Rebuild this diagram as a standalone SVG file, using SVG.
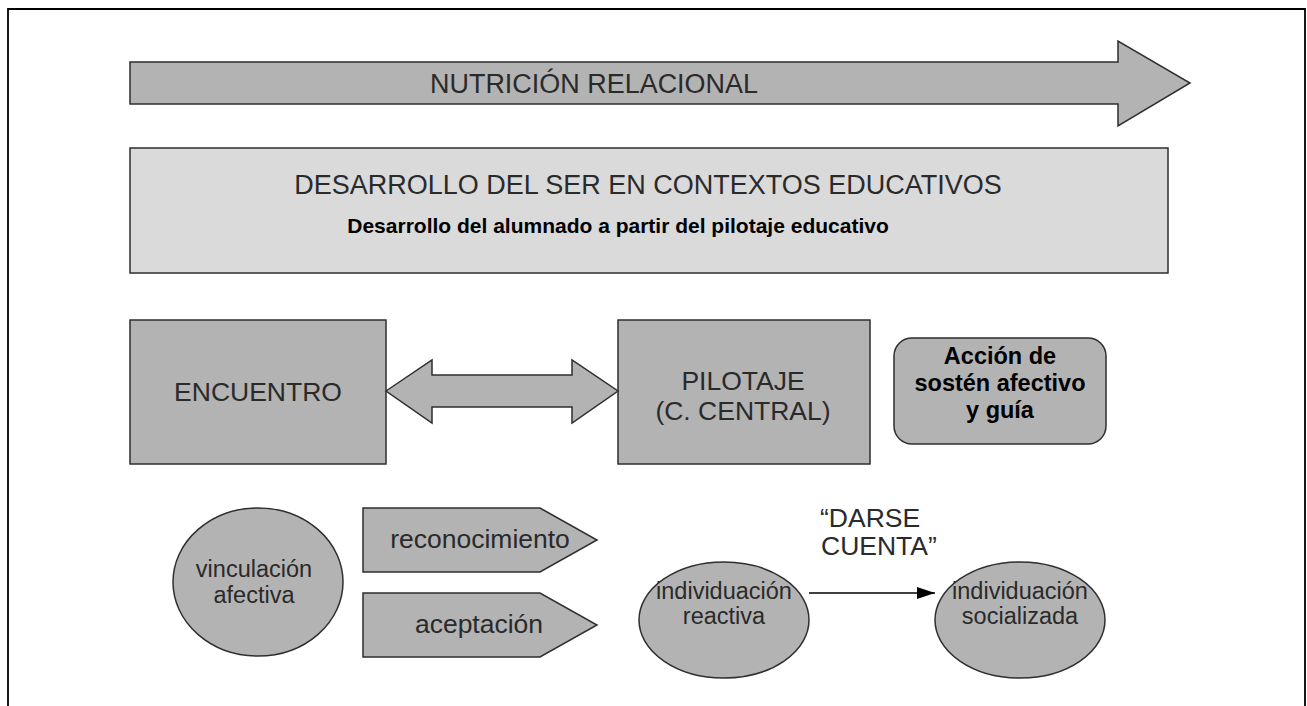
<svg xmlns="http://www.w3.org/2000/svg" width="1307" height="706" viewBox="0 0 1307 706">
<defs>
<style>
.shape{fill:#b3b3b3;stroke:#2e2e2e;stroke-width:1.5}
.light{fill:#dadada;stroke:#2e2e2e;stroke-width:1.5}
.t{font-family:"Liberation Sans",Arial,sans-serif;fill:#2a2a2a;text-anchor:middle}
.b{font-family:"Liberation Sans",Arial,sans-serif;font-weight:bold;fill:#000;text-anchor:middle}
</style>
<marker id="ah" markerWidth="18" markerHeight="12" refX="18" refY="6" orient="auto" markerUnits="userSpaceOnUse">
<path d="M0,0 L18,6 L0,12 Z" fill="#000"/>
</marker>
</defs>
<rect width="1307" height="706" fill="#fff"/>
<path d="M8,706 L8,9 L1305,9 L1305,706" fill="none" stroke="#000" stroke-width="1.8"/>

<g id="nutricion">
<path class="shape" d="M130,62 L1118,62 L1118,41 L1190,83 L1118,126 L1118,104 L130,104 Z"/>
<text class="t" x="594" y="93" font-size="27" textLength="328" lengthAdjust="spacingAndGlyphs">NUTRICIÓN RELACIONAL</text>
</g>

<g id="desarrollo">
<rect class="light" x="130" y="148" width="1038" height="125"/>
<text class="t" x="648" y="194" font-size="27">DESARROLLO DEL SER EN CONTEXTOS EDUCATIVOS</text>
<text class="b" x="618" y="233" font-size="21">Desarrollo del alumnado a partir del pilotaje educativo</text>
</g>

<g id="encuentro">
<rect class="shape" x="130" y="320" width="256" height="144"/>
<text class="t" x="258" y="401" font-size="26.5">ENCUENTRO</text>
</g>

<g id="pilotaje">
<rect class="shape" x="618" y="320" width="252" height="144"/>
<text class="t" x="743" y="390" font-size="26.5">PILOTAJE</text>
<text class="t" x="743" y="420" font-size="26.5">(C. CENTRAL)</text>
</g>

<g id="accion">
<rect class="shape" x="894" y="338" width="212" height="106" rx="18"/>
<text class="b" x="1000" y="364" font-size="23.5">Acción de</text>
<text class="b" x="1000" y="391" font-size="23.5">sostén afectivo</text>
<text class="b" x="1000" y="418" font-size="23.5">y guía</text>
</g>

<g id="vinculacion">
<ellipse class="shape" cx="258" cy="582" rx="85" ry="74"/>
<text class="t" x="254" y="577" font-size="23.5">vinculación</text>
<text class="t" x="254" y="603" font-size="23.5">afectiva</text>
</g>

<g id="reconocimiento">
<path class="shape" d="M363,508 L540,508 L597,540 L540,572 L363,572 Z"/>
<text class="t" x="480" y="548" font-size="26.5">reconocimiento</text>
</g>

<g id="aceptacion">
<path class="shape" d="M363,593 L540,593 L597,625 L540,657 L363,657 Z"/>
<text class="t" x="479" y="633" font-size="26.5">aceptación</text>
</g>

<g id="reactiva">
<ellipse class="shape" cx="724" cy="620" rx="85" ry="58"/>
<text class="t" x="724" y="599" font-size="23.5">individuación</text>
<text class="t" x="724" y="624" font-size="23.5">reactiva</text>
</g>

<g id="socializada">
<ellipse class="shape" cx="1020" cy="620" rx="85" ry="58"/>
<text class="t" x="1020" y="599" font-size="23.5">individuación</text>
<text class="t" x="1020" y="624" font-size="23.5">socializada</text>
</g>

<g id="connectors">
<path class="shape" d="M386,391 L432,360 L432,375 L572,375 L572,360 L618,391 L572,423 L572,407 L432,407 L432,423 Z"/>
<line x1="809" y1="593" x2="935" y2="593" stroke="#000" stroke-width="1.3" marker-end="url(#ah)"/>
<text x="820" y="527" font-family="Liberation Sans,Arial,sans-serif" font-size="26.5" fill="#2a2a2a">“DARSE</text>
<text x="821" y="555" font-family="Liberation Sans,Arial,sans-serif" font-size="26.5" fill="#2a2a2a">CUENTA”</text>
</g>
</svg>
